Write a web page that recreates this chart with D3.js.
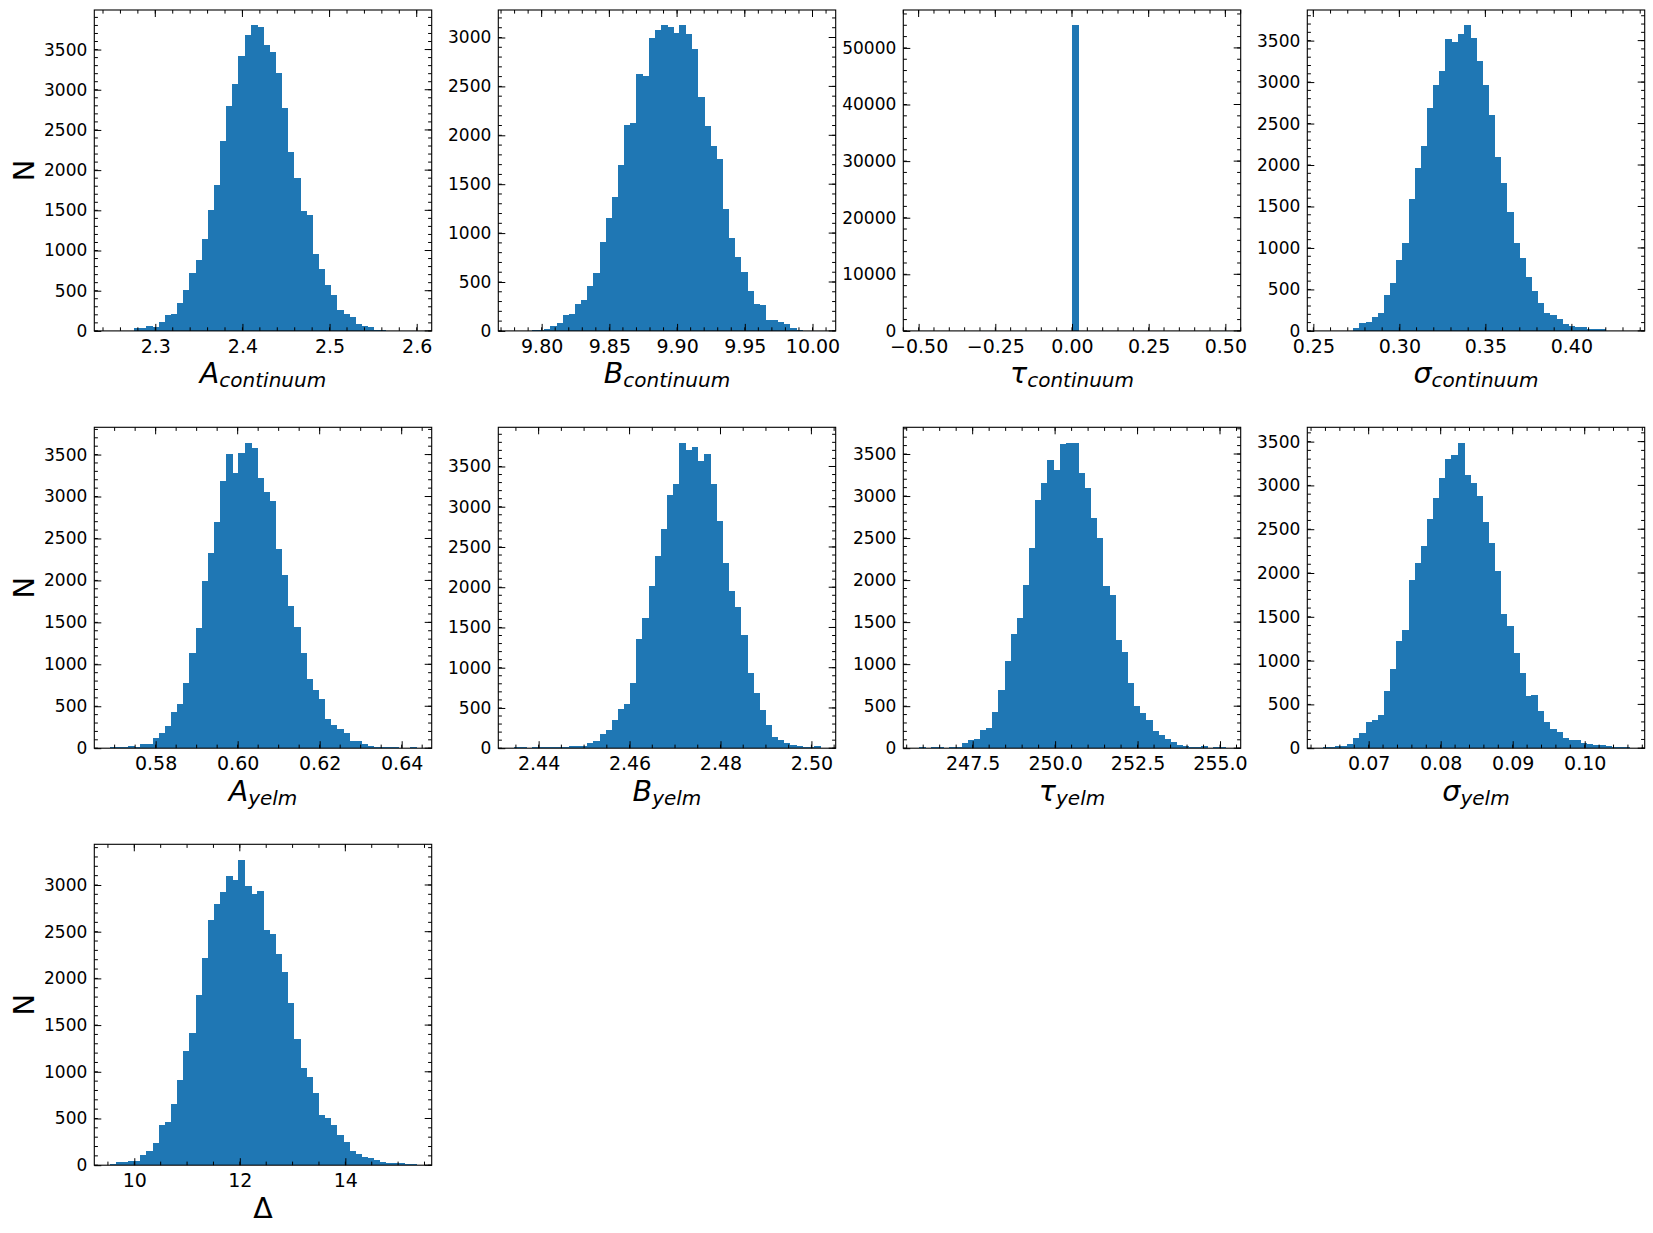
<!DOCTYPE html>
<html>
<head>
<meta charset="utf-8">
<script src="https://cdn.jsdelivr.net/npm/d3@7"></script>
<style>
body { margin: 0; background: #fff; }
svg { display: block; font-family: "DejaVu Sans", sans-serif; }
</style>
</head>
<body>
<script>
// bin counts (50 bins each)
var aContCounts = [1,0,0,1,30,30,58,50,108,195,207,344,506,717,879,1140,1500,1812,2360,2795,3068,3416,3677,3802,3777,3553,3466,3205,2770,2222,1899,1488,1439,954,767,568,444,257,207,170,83,58,46,17,6,3,1,0,0,1];
var bContCounts = [1,0,2,14,14,24,48,78,160,170,273,314,457,590,907,1152,1367,1694,2103,2124,2624,2604,2992,3074,3125,3105,3043,3125,3033,2880,2389,2093,1888,1755,1244,947,753,600,405,273,262,109,109,89,68,27,5,2,0,1];
var tauContCounts = [0,0,0,0,0,0,0,0,0,0,0,0,0,0,0,0,0,0,0,0,0,0,0,0,0,54000,0,0,0,0,0,0,0,0,0,0,0,0,0,0,0,0,0,0,0,0,0,0,0,0];
var sigContCounts = [1,0,0,1,2,40,92,104,165,213,430,575,852,1057,1588,1961,2227,2685,2962,3131,3517,3481,3577,3685,3529,3251,2962,2600,2094,1780,1431,1057,876,647,478,334,213,189,141,80,56,44,44,20,20,20,4,2,0,1];
var aYelmCounts = [12,12,12,24,12,48,48,119,179,262,429,524,774,1131,1428,1988,2321,2702,3190,3512,3286,3524,3643,3583,3226,3059,2952,2369,2059,1690,1440,1131,821,690,583,345,274,226,179,83,83,48,24,12,12,12,12,2,2,10];
var bYelmCounts = [12,12,2,12,12,12,12,12,12,25,25,25,66,87,178,227,351,483,550,810,1351,1616,2012,2384,2719,3149,3285,3797,3706,3744,3562,3657,3277,2826,2306,1959,1760,1401,930,682,471,285,136,99,62,37,25,12,12,25];
var tauYelmCounts = [12,2,12,12,3,12,12,67,99,111,218,241,431,692,1036,1357,1547,1938,2377,2947,3161,3434,3315,3624,3636,3636,3280,3090,2734,2496,1927,1820,1286,1143,775,502,419,336,206,158,111,75,40,24,12,12,24,2,12,12];
var sigYelmCounts = [11,11,23,23,46,114,171,296,319,376,650,901,1220,1345,1915,2109,2314,2622,2861,3089,3306,3352,3489,3123,3032,2884,2588,2348,2018,1528,1391,1083,855,593,604,422,296,217,182,114,91,91,57,46,34,34,23,11,11,11];
var deltaCounts = [11,32,32,43,43,107,150,235,428,460,652,909,1219,1411,1818,2213,2630,2801,2930,3101,3058,3272,2994,2908,2940,2513,2470,2256,2064,1732,1347,1037,941,770,535,503,428,321,246,150,118,86,75,53,32,21,21,21,11,11];

// sample ranges (first bin edge, last bin edge)
var aContRange = [2.2476, 2.5996];
var bContRange = [9.7793, 10.0058];
var tauContRange = [-0.5, 0.5];
var sigContRange = [0.2554, 0.4337];
var aYelmRange = [0.56878, 0.64358];
var bYelmRange = [2.4345, 2.50197];
var tauYelmRange = [245.862, 255.162];
var sigYelmRange = [0.06361, 0.10620];
var deltaRange = [9.5324, 15.346];

// tick labels
var aContTicks = [2.3, 2.4, 2.5, 2.6];
var bContTicks = [9.80, 9.85, 9.90, 9.95, 10.00];
var tauContTicks = [-0.50, -0.25, 0.00, 0.25, 0.50];
var sigContTicks = [0.25, 0.30, 0.35, 0.40];
var aYelmTicks = [0.58, 0.60, 0.62, 0.64];
var bYelmTicks = [2.44, 2.46, 2.48, 2.50];
var tauYelmTicks = [247.5, 250.0, 252.5, 255.0];
var sigYelmTicks = [0.07, 0.08, 0.09, 0.10];
var deltaTicks = [10, 12, 14];
var yTicks3000 = [0, 500, 1000, 1500, 2000, 2500, 3000];
var yTicks3500 = [0, 500, 1000, 1500, 2000, 2500, 3000, 3500];
var yTicks50000 = [0, 10000, 20000, 30000, 40000, 50000];

var labelMain = ["A", "B", "\u03c4", "\u03c3", "A", "B", "\u03c4", "\u03c3", "\u0394"];
var labelSub = ["continuum", "continuum", "continuum", "continuum", "yelm", "yelm", "yelm", "yelm", ""];

var panels = [
    {counts: aContCounts, range: aContRange, xt: aContTicks, fmt: ".1f", xminor: 0.02, yt: yTicks3500, yminor: 100},
    {counts: bContCounts, range: bContRange, xt: bContTicks, fmt: ".2f", xminor: 0.01, yt: yTicks3000, yminor: 100},
    {counts: tauContCounts, range: tauContRange, xt: tauContTicks, fmt: ".2f", xminor: 0.05, yt: yTicks50000, yminor: 2000},
    {counts: sigContCounts, range: sigContRange, xt: sigContTicks, fmt: ".2f", xminor: 0.01, yt: yTicks3500, yminor: 100},
    {counts: aYelmCounts, range: aYelmRange, xt: aYelmTicks, fmt: ".2f", xminor: 0.005, yt: yTicks3500, yminor: 100},
    {counts: bYelmCounts, range: bYelmRange, xt: bYelmTicks, fmt: ".2f", xminor: 0.005, yt: yTicks3500, yminor: 100},
    {counts: tauYelmCounts, range: tauYelmRange, xt: tauYelmTicks, fmt: ".1f", xminor: 0.5, yt: yTicks3500, yminor: 100},
    {counts: sigYelmCounts, range: sigYelmRange, xt: sigYelmTicks, fmt: ".2f", xminor: 0.002, yt: yTicks3500, yminor: 100},
    {counts: deltaCounts, range: deltaRange, xt: deltaTicks, fmt: "d", xminor: 0.5, yt: yTicks3000, yminor: 100}
];

var colX = [94.3, 498.3, 903.3, 1307.3],
    rowY = [10, 427.3, 844.3],
    pw = 337.4, ph = 320.9;

var svg = d3.select("body").append("svg").attr("width", 1653).attr("height", 1233);

function minors(dom, step) {
    var a = [], s = Math.ceil(dom[0] / step - 1e-9), e = Math.floor(dom[1] / step + 1e-9);
    for (var k = s; k <= e; k++) a.push(k * step);
    return a;
}

panels.forEach(function(p, i) {
    var col = i % 4, row = Math.floor(i / 4);
    var g = svg.append("g").attr("transform", "translate(" + colX[col] + "," + rowY[row] + ")");

    var lo = p.range[0], hi = p.range[1], span = hi - lo, bw = span / p.counts.length;
    var x = d3.scaleLinear().domain([lo - 0.05 * span, hi + 0.05 * span]).range([0, pw]);
    var y = d3.scaleLinear().domain([0, d3.max(p.counts) * 1.05]).range([ph, 0]);

    var bins = p.counts.map(function(c, k) { return {x0: lo + k * bw, x1: lo + (k + 1) * bw, n: c}; })
        .filter(function(d) { return d.n > 0; });

    // bars (slight overlap so no seams show between neighbours)
    g.append("g").attr("shape-rendering", "crispEdges")
        .selectAll("rect").data(bins).enter().append("rect")
        .attr("x", function(d) { return x(d.x0); })
        .attr("width", function(d) { return x(d.x1) - x(d.x0) + 0.8; })
        .attr("y", function(d) { return y(d.n); })
        .attr("height", function(d) { return ph - y(d.n); })
        .attr("fill", "#1f77b4");

    // minor ticks, all four sides, pointing in
    var xm = minors(x.domain(), p.xminor), ym = minors(y.domain(), p.yminor);
    var tk = g.append("g").attr("stroke", "#000").attr("stroke-width", 1);
    xm.forEach(function(v) {
        tk.append("line").attr("x1", x(v)).attr("x2", x(v)).attr("y1", ph).attr("y2", ph - 3.6);
        tk.append("line").attr("x1", x(v)).attr("x2", x(v)).attr("y1", 0).attr("y2", 3.6);
    });
    ym.forEach(function(v) {
        tk.append("line").attr("y1", y(v)).attr("y2", y(v)).attr("x1", 0).attr("x2", 3.6);
        tk.append("line").attr("y1", y(v)).attr("y2", y(v)).attr("x1", pw).attr("x2", pw - 3.6);
    });
    // major ticks on top / right
    p.xt.forEach(function(v) {
        tk.append("line").attr("x1", x(v)).attr("x2", x(v)).attr("y1", 0).attr("y2", 7);
    });
    p.yt.forEach(function(v) {
        tk.append("line").attr("y1", y(v)).attr("y2", y(v)).attr("x1", pw).attr("x2", pw - 7);
    });

    var xa = g.append("g").attr("transform", "translate(0," + ph + ")")
        .call(d3.axisBottom(x).tickValues(p.xt).tickFormat(d3.format(p.fmt))
            .tickSizeInner(-7).tickSizeOuter(0).tickPadding(8.5));
    var ya = g.append("g")
        .call(d3.axisLeft(y).tickValues(p.yt).tickFormat(d3.format("d"))
            .tickSizeInner(-7).tickSizeOuter(0).tickPadding(7));
    [xa, ya].forEach(function(a) {
        a.select(".domain").remove();
        a.selectAll("line").attr("stroke", "#000").attr("stroke-width", 1);
        a.selectAll("text").attr("fill", "#000").attr("font-family", "DejaVu Sans");
    });
    xa.selectAll("text").attr("font-size", 19);
    ya.selectAll("text").attr("font-size", 17);

    g.append("rect").attr("width", pw).attr("height", ph)
        .attr("fill", "none").attr("stroke", "#000").attr("stroke-width", 1.1);

    // x label
    var lab = g.append("text").attr("x", pw / 2).attr("y", ph + 52.5)
        .attr("text-anchor", "middle").attr("fill", "#000");
    lab.append("tspan").attr("font-size", 28.5)
        .attr("font-style", labelSub[i] ? "italic" : "normal").text(labelMain[i]);
    if (labelSub[i]) {
        lab.append("tspan").attr("font-size", 20).attr("font-style", "italic")
            .attr("dy", 4).text(labelSub[i]);
    }

    if (col === 0) {
        g.append("text").attr("transform", "translate(" + (23.5 - colX[0] + 10.5) + "," + (ph / 2) + ") rotate(-90)")
            .attr("text-anchor", "middle").attr("font-size", 29).attr("fill", "#000").text("N");
    }
});
</script>
</body>
</html>
